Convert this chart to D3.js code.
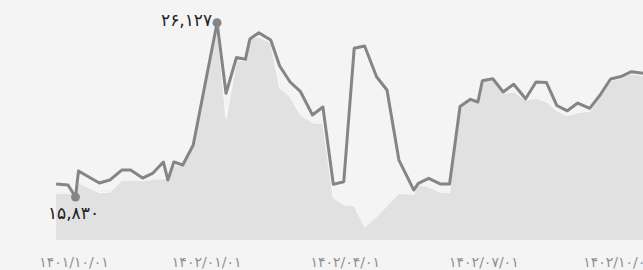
<!DOCTYPE html>
<html><head><meta charset="utf-8">
<script src="https://cdn.jsdelivr.net/npm/d3@7/dist/d3.min.js"></script>
<style>html,body{margin:0;padding:0;background:#f4f4f4;overflow:hidden}</style>
</head><body><svg id="c" width="643" height="270"></svg>
<script>
const dates = ["2022-12-10","2022-12-18","2022-12-23","2022-12-25","2023-01-08","2023-01-15","2023-01-23","2023-01-29","2023-02-06","2023-02-13","2023-02-20","2023-02-23","2023-02-27","2023-03-05","2023-03-12","2023-03-28","2023-04-03","2023-04-10","2023-04-16","2023-04-19","2023-04-25","2023-05-03","2023-05-09","2023-05-16","2023-05-23","2023-05-31","2023-06-07","2023-06-14","2023-06-21","2023-06-28","2023-07-05","2023-07-13","2023-07-20","2023-07-28","2023-08-07","2023-08-10","2023-08-17","2023-08-25","2023-08-31","2023-09-07","2023-09-14","2023-09-19","2023-09-22","2023-09-29","2023-10-06","2023-10-13","2023-10-21","2023-10-28","2023-11-04","2023-11-11","2023-11-18","2023-11-25","2023-12-03","2023-12-10","2023-12-17","2023-12-24","2023-12-31","2024-01-08"];
const lineValues = [16598,16539,15830,17366,16657,16834,17425,17425,16953,17248,17898,16834,17898,17721,18902,26127,21957,24072,23965,25165,25537,25106,23569,22624,22051,20675,21147,16580,16734,24615,24751,22937,22152,18016,16244,16639,16935,16598,16598,21177,21602,21443,22701,22819,22033,22494,21632,22624,22595,21236,20923,21384,21070,21856,22801,22949,23233,23138];
const areaValues = [16096,16096,16096,16716,16125,16155,16864,16864,16834,16923,16953,16953,17721,17721,18930,25992,20497,23924,23924,25194,25342,24987,22329,21797,20734,20261,20202,15830,15416,15357,14117,14707,15357,16096,16037,16598,16480,16155,16125,21147,21590,21443,22683,22772,21974,22092,21590,21708,21502,20970,20675,20852,20940,21827,22742,22890,23156,23038];
const tickDates = ["2022-12-22","2023-03-21","2023-06-22","2023-09-23","2023-12-22"];
const tickLabels = ["۱۴۰۱/۱۰/۰۱","۱۴۰۲/۰۱/۰۱","۱۴۰۲/۰۴/۰۱","۱۴۰۲/۰۷/۰۱","۱۴۰۲/۱۰/۰۱"];
const yDomain = [13294, 26127];

const parse = d3.utcParse("%Y-%m-%d");
const data = dates.map((d, i) => ({date: parse(d), line: lineValues[i], area: areaValues[i]}));

const svg = d3.select("#c");
const W = 643, H = 270;
const x = d3.scaleUtc().domain([parse(tickDates[0]), parse(tickDates[4])]).range([74, 618]);
const y = d3.scaleLinear().domain(yDomain).range([240, 22.7]);

const persian = s => s.replace(/\d/g, d => "۰۱۲۳۴۵۶۷۸۹"[+d]);
const fmt = v => persian(d3.format(",")(v));

svg.append("rect").attr("width", W).attr("height", H).attr("fill", "#f4f4f4");

svg.append("path").datum(data)
  .attr("fill", "#e1e1e1")
  .attr("d", d3.area().x(d => x(d.date)).y0(y(yDomain[0])).y1(d => y(d.area)));

svg.append("path").datum(data)
  .attr("fill", "none").attr("stroke", "#f7f7f7").attr("stroke-width", 1.2)
  .attr("d", d3.line().x(d => x(d.date)).y(d => y(d.area) + 0.6));

svg.append("path").datum(data)
  .attr("fill", "none").attr("stroke", "#858585").attr("stroke-width", 3)
  .attr("stroke-linejoin", "round")
  .attr("d", d3.line().x(d => x(d.date)).y(d => y(d.line)));

const maxD = data.reduce((a, b) => b.line > a.line ? b : a);
const minD = data.reduce((a, b) => b.line < a.line ? b : a);

svg.selectAll("circle.m").data([maxD, minD]).enter().append("circle")
  .attr("cx", d => x(d.date)).attr("cy", d => y(d.line)).attr("r", 4.5).attr("fill", "#858585");

svg.append("text").attr("x", x(maxD.date) - 5).attr("y", y(maxD.line) + 3)
  .attr("text-anchor", "end").attr("font-family", "DejaVu Sans").attr("font-size", 17)
  .attr("fill", "#222").attr("direction", "ltr").text(fmt(maxD.line));
svg.append("text").attr("x", x(minD.date) - 2).attr("y", y(minD.line) + 22)
  .attr("text-anchor", "middle").attr("font-family", "DejaVu Sans").attr("font-size", 17)
  .attr("fill", "#222").attr("direction", "ltr").text(fmt(minD.line));

const axis = svg.append("g");
axis.selectAll("text").data(tickDates).enter().append("text")
  .attr("x", d => x(parse(d))).attr("y", 267)
  .attr("text-anchor", "middle").attr("font-family", "DejaVu Sans").attr("font-size", 14)
  .attr("fill", "#8f8f8f").attr("direction", "ltr")
  .text((d, i) => tickLabels[i]);
</script></body></html>
